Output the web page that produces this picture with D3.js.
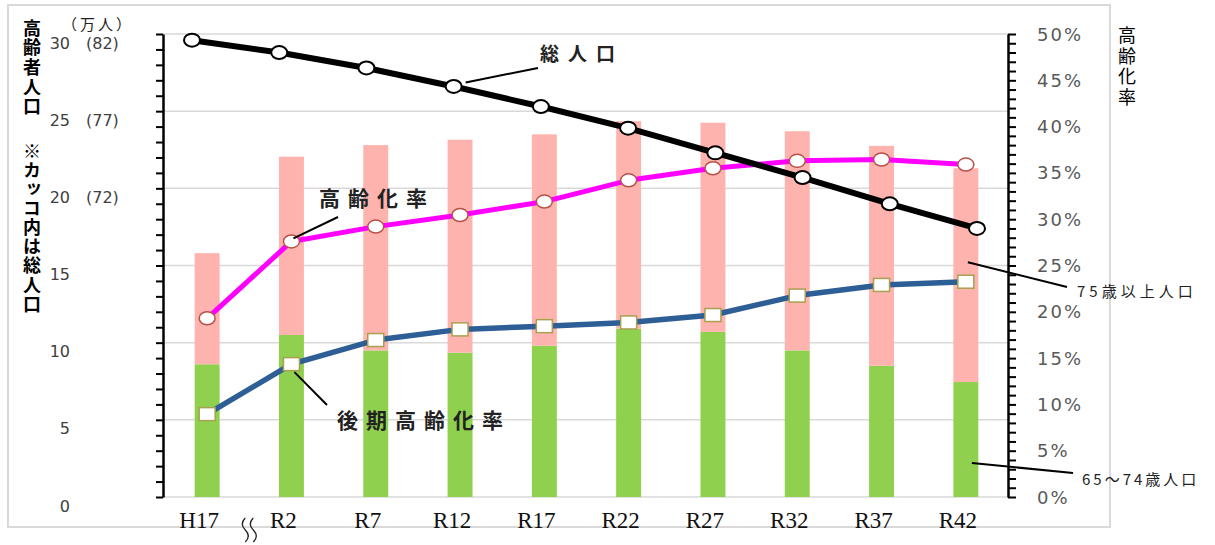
<!DOCTYPE html>
<html>
<head>
<meta charset="utf-8">
<script src="https://cdn.jsdelivr.net/npm/d3@7"></script>
<style>
  body { margin: 0; background: #fff; }
</style>
</head>
<body>
<svg id="chart" width="1215" height="545"></svg>
<script>
// data
const categories = ["H17", "R2", "R7", "R12", "R17", "R22", "R27", "R32", "R37", "R42"];
const pop65to74 = [8.6, 10.5, 9.5, 9.35, 9.8, 10.9, 10.7, 9.5, 8.5, 7.45];      // 万人
const pop75over = [7.2, 11.55, 13.3, 13.8, 13.7, 13.45, 13.55, 14.2, 14.25, 13.85]; // 万人
const totalPop = [81.6, 80.8, 79.8, 78.6, 77.3, 75.9, 74.3, 72.7, 71.0, 69.4];   // 万人
const agingRate = [19.3, 27.6, 29.2, 30.45, 31.9, 34.2, 35.5, 36.3, 36.45, 35.9]; // %
const lateAgingRate = [8.95, 14.35, 16.95, 18.1, 18.45, 18.85, 19.65, 21.75, 22.9, 23.25]; // %
const leftTicks = [0, 5, 10, 15, 20, 25, 30];
const totalTickLabels = ["", "", "", "", "(72)", "(77)", "(82)"];
const rightTicks = [0, 5, 10, 15, 20, 25, 30, 35, 40, 45, 50];

const svg = d3.select("#chart");
const jp = "'Noto Sans CJK JP', sans-serif";

const x = d3.scaleBand().domain(categories).range([165, 1008])
    .paddingInner(0.704).paddingOuter(0.352);
// the total population line sits on a slightly wider spacing in the original
const xTotal = d3.scalePoint().domain(categories).range([192, 977]);
const yLeft = d3.scaleLinear().domain([0, 30]).range([497, 34]);
const yTotal = d3.scaleLinear().domain([52, 82]).range([497, 34]);
const yRight = d3.scaleLinear().domain([0, 50]).range([497, 34]);
const cx = c => x(c) + x.bandwidth() / 2;

// frame
svg.append("rect")
    .attr("x", 8).attr("y", 5).attr("width", 1102).attr("height", 522)
    .attr("fill", "none").attr("stroke", "#d9d9d9").attr("stroke-width", 2);

// gridlines
svg.append("g").selectAll("line")
    .data(leftTicks)
    .join("line")
    .attr("x1", 163).attr("x2", 1008)
    .attr("y1", d => yLeft(d)).attr("y2", d => yLeft(d))
    .attr("stroke", "#d9d9d9").attr("stroke-width", 1.5);

// stacked bars
const rows = categories.map((c, i) => ({ cat: c, young: pop65to74[i], old: pop75over[i] }));
const stacked = d3.stack().keys(["young", "old"])(rows);
const barColor = { young: "#8fd14f", old: "#ffb3ae" };

svg.append("g").selectAll("g")
    .data(stacked)
    .join("g")
    .attr("fill", d => barColor[d.key])
  .selectAll("rect")
    .data(d => d)
    .join("rect")
    .attr("x", d => x(d.data.cat))
    .attr("width", x.bandwidth())
    .attr("y", d => yLeft(d[1]))
    .attr("height", d => yLeft(d[0]) - yLeft(d[1]));

// axes
const leftAxis = svg.append("g")
    .attr("transform", "translate(163,0)")
    .call(d3.axisLeft(yLeft).tickValues(d3.range(0, 31)).tickSize(7).tickSizeOuter(0).tickFormat(""));
const rightAxis = svg.append("g")
    .attr("transform", "translate(1008,0)")
    .call(d3.axisRight(yRight).tickValues(d3.range(0, 51)).tickSize(8).tickSizeOuter(0).tickFormat(""));
[leftAxis, rightAxis].forEach(a => {
    a.select(".domain").attr("stroke", "#000").attr("stroke-width", 2.5);
    a.selectAll(".tick line").attr("stroke", "#000").attr("stroke-width", 2);
});

// left tick labels
svg.append("g").selectAll("text")
    .data(leftTicks)
    .join("text")
    .attr("x", 70).attr("y", d => yLeft(d) + 9)
    .attr("text-anchor", "end").attr("dominant-baseline", "central")
    .attr("font-family", "'DejaVu Sans', sans-serif").attr("font-size", 16)
    .attr("fill", "#404040")
    .text(d => d);
svg.append("g").selectAll("text")
    .data(leftTicks)
    .join("text")
    .attr("x", 86).attr("y", d => yLeft(d) + 9)
    .attr("dominant-baseline", "central")
    .attr("font-family", "'DejaVu Sans', sans-serif").attr("font-size", 16)
    .attr("fill", "#404040")
    .text((d, i) => totalTickLabels[i]);

// right tick labels
svg.append("g").selectAll("text")
    .data(rightTicks)
    .join("text")
    .attr("x", 1037).attr("y", d => yRight(d))
    .attr("dominant-baseline", "central")
    .attr("font-family", "'DejaVu Sans', sans-serif").attr("font-size", 18)
    .attr("letter-spacing", 2)
    .attr("fill", "#595959")
    .text(d => d + "%");

// category labels
svg.append("g").selectAll("text")
    .data(categories)
    .join("text")
    .attr("x", d => cx(d) - 8).attr("y", 528)
    .attr("text-anchor", "middle")
    .attr("font-family", "'Liberation Serif', serif").attr("font-size", 23)
    .attr("fill", "#111")
    .text(d => d);

// axis break mark between H17 and R2
const breakX = (cx("H17") + cx("R2")) / 2;
svg.append("g").selectAll("path")
    .data([-4, 4])
    .join("path")
    .attr("d", d => `M${breakX + d},518 c-4,4 -4,8 0,12 s4,8 0,12`)
    .attr("fill", "none").attr("stroke", "#222").attr("stroke-width", 1.3);

// vertical titles, written top to bottom
function vertical(str, x0, y0, size, spacing, weight) {
    svg.append("text")
        .attr("x", x0).attr("y", y0)
        .style("writing-mode", "vertical-rl")
        .attr("font-family", jp).attr("font-size", size).attr("font-weight", weight)
        .attr("letter-spacing", spacing)
        .attr("fill", "#000")
        .text(str);
}
vertical("高齢者人口", 32, 19, 18, 1.6, "bold");
vertical("※カッコ内は総人口", 32, 142, 18, 1.1, "bold");
vertical("高齢化率", 1127, 26, 18, 2.7, "normal");

svg.append("text")
    .attr("x", 62).attr("y", 23)
    .attr("dominant-baseline", "central")
    .attr("font-family", jp).attr("font-size", 15).attr("letter-spacing", 3)
    .attr("fill", "#222")
    .text("（万人）");

// lines
const lineLayer = svg.append("g");
function series(values, xs, ys, color, width) {
    const pts = categories.map((c, i) => [xs(c), ys(values[i])]);
    lineLayer.append("path")
        .attr("d", d3.line()(pts))
        .attr("fill", "none").attr("stroke", color)
        .attr("stroke-width", width).attr("stroke-linejoin", "round");
    return pts;
}
const agingPts = series(agingRate, cx, yRight, "#ff00ff", 5);
const latePts = series(lateAgingRate, cx, yRight, "#2e5e96", 5.5);
const totalPts = series(totalPop, xTotal, yTotal, "#000", 6);

lineLayer.append("g").selectAll("ellipse")
    .data(agingPts).join("ellipse")
    .attr("cx", d => d[0]).attr("cy", d => d[1]).attr("rx", 8).attr("ry", 6.5)
    .attr("fill", "#fff").attr("stroke", "#b8504a").attr("stroke-width", 1.5);
lineLayer.append("g").selectAll("rect")
    .data(latePts).join("rect")
    .attr("x", d => d[0] - 8).attr("y", d => d[1] - 6.5).attr("width", 16).attr("height", 13)
    .attr("fill", "#fff").attr("stroke", "#a8a050").attr("stroke-width", 1.5);
lineLayer.append("g").selectAll("ellipse")
    .data(totalPts).join("ellipse")
    .attr("cx", d => d[0]).attr("cy", d => d[1]).attr("rx", 8).attr("ry", 6.5)
    .attr("fill", "#fff").attr("stroke", "#000").attr("stroke-width", 2);

// annotations with leader lines
const notes = [
    { text: "総人口", from: [totalPts[3][0] + 12, totalPts[3][1] - 4], to: [538, 68], tx: 540, ty: 52, size: 19, ls: 9, weight: "bold" },
    { text: "高齢化率", from: [agingPts[1][0] + 2, agingPts[1][1] - 3], to: [338, 217], tx: 319, ty: 197, size: 21, ls: 8, weight: "bold" },
    { text: "後期高齢化率", from: [latePts[1][0] + 3, latePts[1][1] + 8], to: [327, 405], tx: 337, ty: 419, size: 21, ls: 8, weight: "bold" },
    { text: "75歳以上人口", from: [cx("R42") + 2, yLeft(pop65to74[9] + pop75over[9]) + 94], to: [1067, 287], tx: 1077, ty: 290, size: 15, ls: 4, weight: "normal" },
    { text: "65～74歳人口", from: [cx("R42") + 6, yLeft(pop65to74[9]) + 81], to: [1073, 473], tx: 1082, ty: 478, size: 15, ls: 3, weight: "normal" }
];
const noteLayer = svg.append("g");
noteLayer.selectAll("line")
    .data(notes).join("line")
    .attr("x1", d => d.from[0]).attr("y1", d => d.from[1])
    .attr("x2", d => d.to[0]).attr("y2", d => d.to[1])
    .attr("stroke", "#000").attr("stroke-width", 2);
noteLayer.selectAll("text")
    .data(notes).join("text")
    .attr("x", d => d.tx).attr("y", d => d.ty)
    .attr("dominant-baseline", "central")
    .attr("font-family", jp).attr("font-size", d => d.size)
    .attr("font-weight", d => d.weight).attr("letter-spacing", d => d.ls)
    .attr("fill", "#222")
    .text(d => d.text);
</script>
</body>
</html>
